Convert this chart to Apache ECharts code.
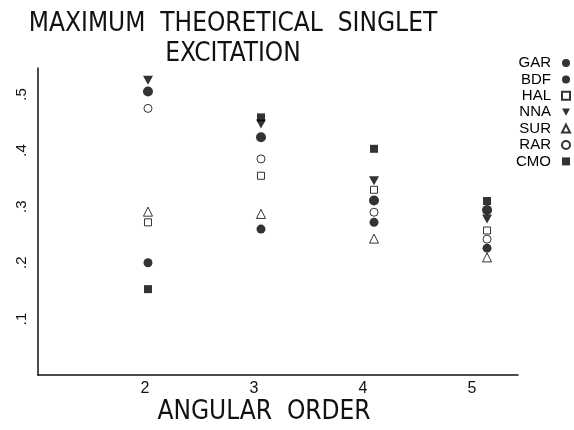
<!DOCTYPE html>
<html>
<head>
<meta charset="utf-8">
<script src="https://cdn.jsdelivr.net/npm/echarts@6/dist/echarts.min.js"></script>
<style>
  html, body { margin: 0; padding: 0; background: #fff; }
  #chart { width: 574px; height: 430px; }
</style>
</head>
<body>
<div id="chart"></div>
<script>
// Angular orders on the x axis and the maximum singlet excitation per functional
const angularOrder = [2, 3, 4, 5];
const GAR = [0.200, 0.260, 0.272, 0.226];
const BDF = [0.505, 0.4235, 0.311, 0.294];
const HAL = [0.272, 0.355, 0.330, 0.2575];
const NNA = [0.525, 0.447, 0.346, 0.278];
const SUR = [0.291, 0.287, 0.243, 0.2095];
const RAR = [0.475, 0.385, 0.290, 0.242];
const CMO = [0.153, 0.459, 0.403, 0.310];
const yTicks = [0.1, 0.2, 0.3, 0.4, 0.5];

const NARROW = "'Liberation Sans Narrow', 'DejaVu Sans Condensed', 'Liberation Sans', sans-serif";
const SANS = "'Liberation Sans', Arial, sans-serif";
const downTriangle = 'path://M0,0 L10,0 L5,9 Z';
const X_MIN = 1.027, X_MAX = 5.274, Y_MAX = 0.547;
const TICK_HALF = 0.04; // half tick length in x-axis units

function pts(vals) {
  return angularOrder.map((x, i) => [x, vals[i]]);
}
function filled(name, vals, symbol, size) {
  return {
    name, type: 'scatter', data: pts(vals), symbol, symbolSize: size,
    itemStyle: { color: '#000' }, silent: true
  };
}
function hollow(name, vals, symbol, size) {
  return {
    name, type: 'scatter', data: pts(vals), symbol, symbolSize: size,
    itemStyle: { color: '#fff', borderColor: '#000', borderWidth: 1 }, silent: true
  };
}

const chart = echarts.init(document.getElementById('chart'));
chart.setOption({
  animation: false,
  backgroundColor: '#fff',
  title: [
    {
      text: 'MAXIMUM  THEORETICAL  SINGLET\nEXCITATION',
      left: 233, top: 9, textAlign: 'center', padding: 0,
      textStyle: { fontFamily: NARROW, fontSize: 26, fontWeight: 'normal', color: '#111', lineHeight: 30 }
    },
    {
      text: 'ANGULAR  ORDER',
      left: 264, top: 399, textAlign: 'center', padding: 0,
      textStyle: { fontFamily: NARROW, fontSize: 26, fontWeight: 'normal', color: '#111' }
    }
  ],
  legend: {
    orient: 'vertical', right: 3, top: 55.5, align: 'right', padding: 0,
    itemWidth: 8, itemHeight: 8, itemGap: 1.4,
    textStyle: { fontFamily: SANS, fontSize: 15, color: '#000', padding: [0, 6, 0, 0], lineHeight: 13 },
    data: ['GAR', 'BDF', 'HAL', 'NNA', 'SUR', 'RAR', 'CMO']
  },
  grid: { left: 38, right: 56, top: 68, bottom: 55 },
  xAxis: [
    {
      type: 'value', min: X_MIN, max: X_MAX,
      axisLine: { show: true, lineStyle: { color: '#111', width: 1.5 } },
      axisTick: { show: false }, axisLabel: { show: false }, splitLine: { show: false }
    },
    {
      // label axis for the angular order values
      type: 'value', position: 'bottom', min: 1.018, max: 5.422,
      axisLine: { show: false }, axisTick: { show: false }, splitLine: { show: false },
      axisLabel: {
        customValues: angularOrder, margin: 6,
        fontFamily: SANS, fontSize: 16, color: '#111'
      }
    }
  ],
  yAxis: {
    type: 'value', min: 0, max: Y_MAX,
    axisLine: { show: true, lineStyle: { color: '#111', width: 1.5 } },
    axisTick: { show: false },
    axisLabel: {
      customValues: yTicks, rotate: 90, margin: 9,
      fontFamily: SANS, fontSize: 15, color: '#111',
      formatter: v => '.' + Math.round(v * 10)
    },
    splitLine: { show: false }
  },
  series: [
    filled('GAR', GAR, 'circle', 9),
    filled('BDF', BDF, 'circle', 10),
    hollow('HAL', HAL, 'rect', 7),
    filled('NNA', NNA, downTriangle, [10, 9]),
    hollow('SUR', SUR, 'triangle', 9),
    hollow('RAR', RAR, 'circle', 8),
    {
      name: 'CMO', type: 'scatter', data: pts(CMO), symbol: 'rect', symbolSize: 8,
      itemStyle: { color: '#000' }, silent: true,
      // short segments crossing the y axis at each labelled value
      markLine: {
        silent: true, symbol: ['none', 'none'], clip: false, animation: false,
        label: { show: false },
        lineStyle: { color: '#000', width: 1.5, type: 'solid' },
        data: yTicks.map(v => [
          { coord: [X_MIN - TICK_HALF, v] },
          { coord: [X_MIN + TICK_HALF, v] }
        ])
      }
    }
  ]
});
</script>
</body>
</html>
